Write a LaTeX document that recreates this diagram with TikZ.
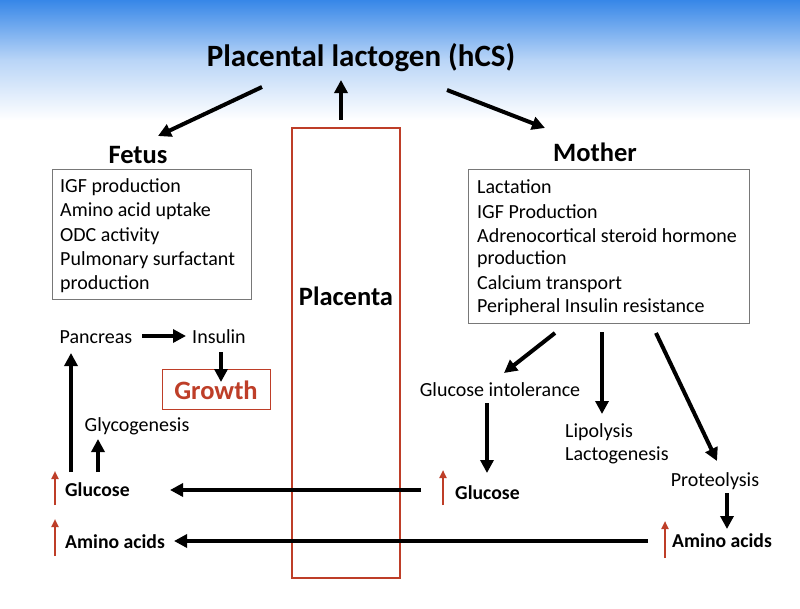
\documentclass[tikz,border=0pt]{standalone}
\usepackage{fontspec}
\setmainfont{Carlito}
\usetikzlibrary{arrows.meta}
\definecolor{skyblue}{RGB}{55,135,232}
\definecolor{plred}{RGB}{190,62,40}
\definecolor{boxgray}{RGB}{120,120,120}
\tikzset{
  px/.style={x=1pt,y=-1pt},
  blk/.style={line width=4pt,-{Triangle[length=13pt,width=13pt]}},
  redup/.style={plred,line width=2pt,-{Triangle[length=8pt,width=7pt]}},
  txt/.style={font=\fontsize{20}{24}\selectfont,inner sep=0pt,align=left},
  btxt/.style={font=\bfseries\fontsize{19.7}{24}\selectfont,inner sep=0pt},
  head/.style={font=\bfseries\fontsize{26.5}{30}\selectfont,inner sep=0pt},
}
\begin{document}
\begin{tikzpicture}[px]
\useasboundingbox (0,0) rectangle (800,608);
\fill[white] (0,0) rectangle (800,608);
\shade[top color=skyblue,bottom color=white,middle color=skyblue!35] (0,0) rectangle (800,120);
% title
\node[font=\bfseries\fontsize{31}{36}\selectfont,inner sep=0pt] (title) at (361,58) {Placental lactogen (hCS)};
% placenta
\draw[plred,line width=1.5pt] (292,128) rectangle (400,578);
\node[head] (plac) at (346,296) {Placenta};
\coordinate (plactop) at (341,120);
\coordinate (tl) at (262,87);
\coordinate (tlh) at (158,136);
\coordinate (tr) at (447,90);
\coordinate (trh) at (545,128);
\coordinate (tu) at (341,80);
\draw[blk] (plactop) -- (tu);
\draw[blk] (tl) -- (tlh);
\draw[blk] (tr) -- (trh);
% fetus
\node[head] (fetus) at (138,155) {Fetus};
\draw[boxgray,line width=1pt] (52,169) rectangle (251,299);
\node[txt,anchor=west] (f1) at (60,187) {IGF production};
\node[txt,anchor=west] (f2) at (60,211) {Amino acid uptake};
\node[txt,anchor=west] (f3) at (60,236) {ODC activity};
\node[txt,anchor=west] (f4) at (60,260) {Pulmonary surfactant};
\node[txt,anchor=west] (f5) at (60,284) {production};
% mother
\node[head] (mother) at (595,152) {Mother};
\draw[boxgray,line width=1pt] (468,169) rectangle (749,323);
\node[txt,anchor=west] (m1) at (477,187) {Lactation};
\node[txt,anchor=west] (m2) at (477,212) {IGF Production};
\node[txt,anchor=west] (m3) at (477,236) {Adrenocortical steroid hormone};
\node[txt,anchor=west] (m4) at (477,259) {production};
\node[txt,anchor=west] (m5) at (477,284) {Calcium transport};
\node[txt,anchor=west] (m6) at (477,307) {Peripheral Insulin resistance};
% fetal side
\node[txt] (pan) at (96,337) {Pancreas};
\node[txt] (ins) at (219,337) {Insulin};
\coordinate (pe) at (142,336);
\coordinate (ie) at (186,336);
\draw[blk] (pe) -- (ie);
\draw[plred,line width=1pt] (162,369) rectangle (270,409);
\node[font=\bfseries\fontsize{26.5}{30}\selectfont,text=plred,inner sep=0pt] (growth) at (216,390) {Growth};
\draw[blk] (221,352) -- (221,382);
\node[txt] (glyco) at (137,426) {Glycogenesis};
\node[btxt,anchor=west] (fglu) at (65,490) {Glucose};
\node[btxt,anchor=west] (faa) at (65,542) {Amino acids};
\draw[blk] (71,472) -- (71,353);
\draw[blk] (98,472) -- (98,439);
\draw[redup] (55,505) -- (55,471);
\draw[redup] (55,556) -- (55,519);
% maternal side
\node[txt] (gint) at (500,390) {Glucose intolerance};
\node[txt,anchor=west] (lipo) at (565,432) {Lipolysis};
\node[txt,anchor=west] (lact) at (565,455) {Lactogenesis};
\node[txt] (prot) at (715,481) {Proteolysis};
\node[btxt,anchor=west] (mglu) at (455,493) {Glucose};
\node[btxt,anchor=west] (maa) at (672,541) {Amino acids};
\draw[blk] (555,333) -- (504,373);
\draw[blk] (602,332) -- (602,414);
\draw[blk] (656,333) -- (717,461);
\draw[blk] (487,403) -- (487,473);
\draw[blk] (727,493) -- (727,529);
\draw[redup] (443,505) -- (443,470);
\draw[redup] (665,558) -- (665,521);
% transfer arrows
\draw[blk] (421,490) -- (170,490);
\draw[blk] (648,541) -- (174,541);
\end{tikzpicture}
\end{document}
